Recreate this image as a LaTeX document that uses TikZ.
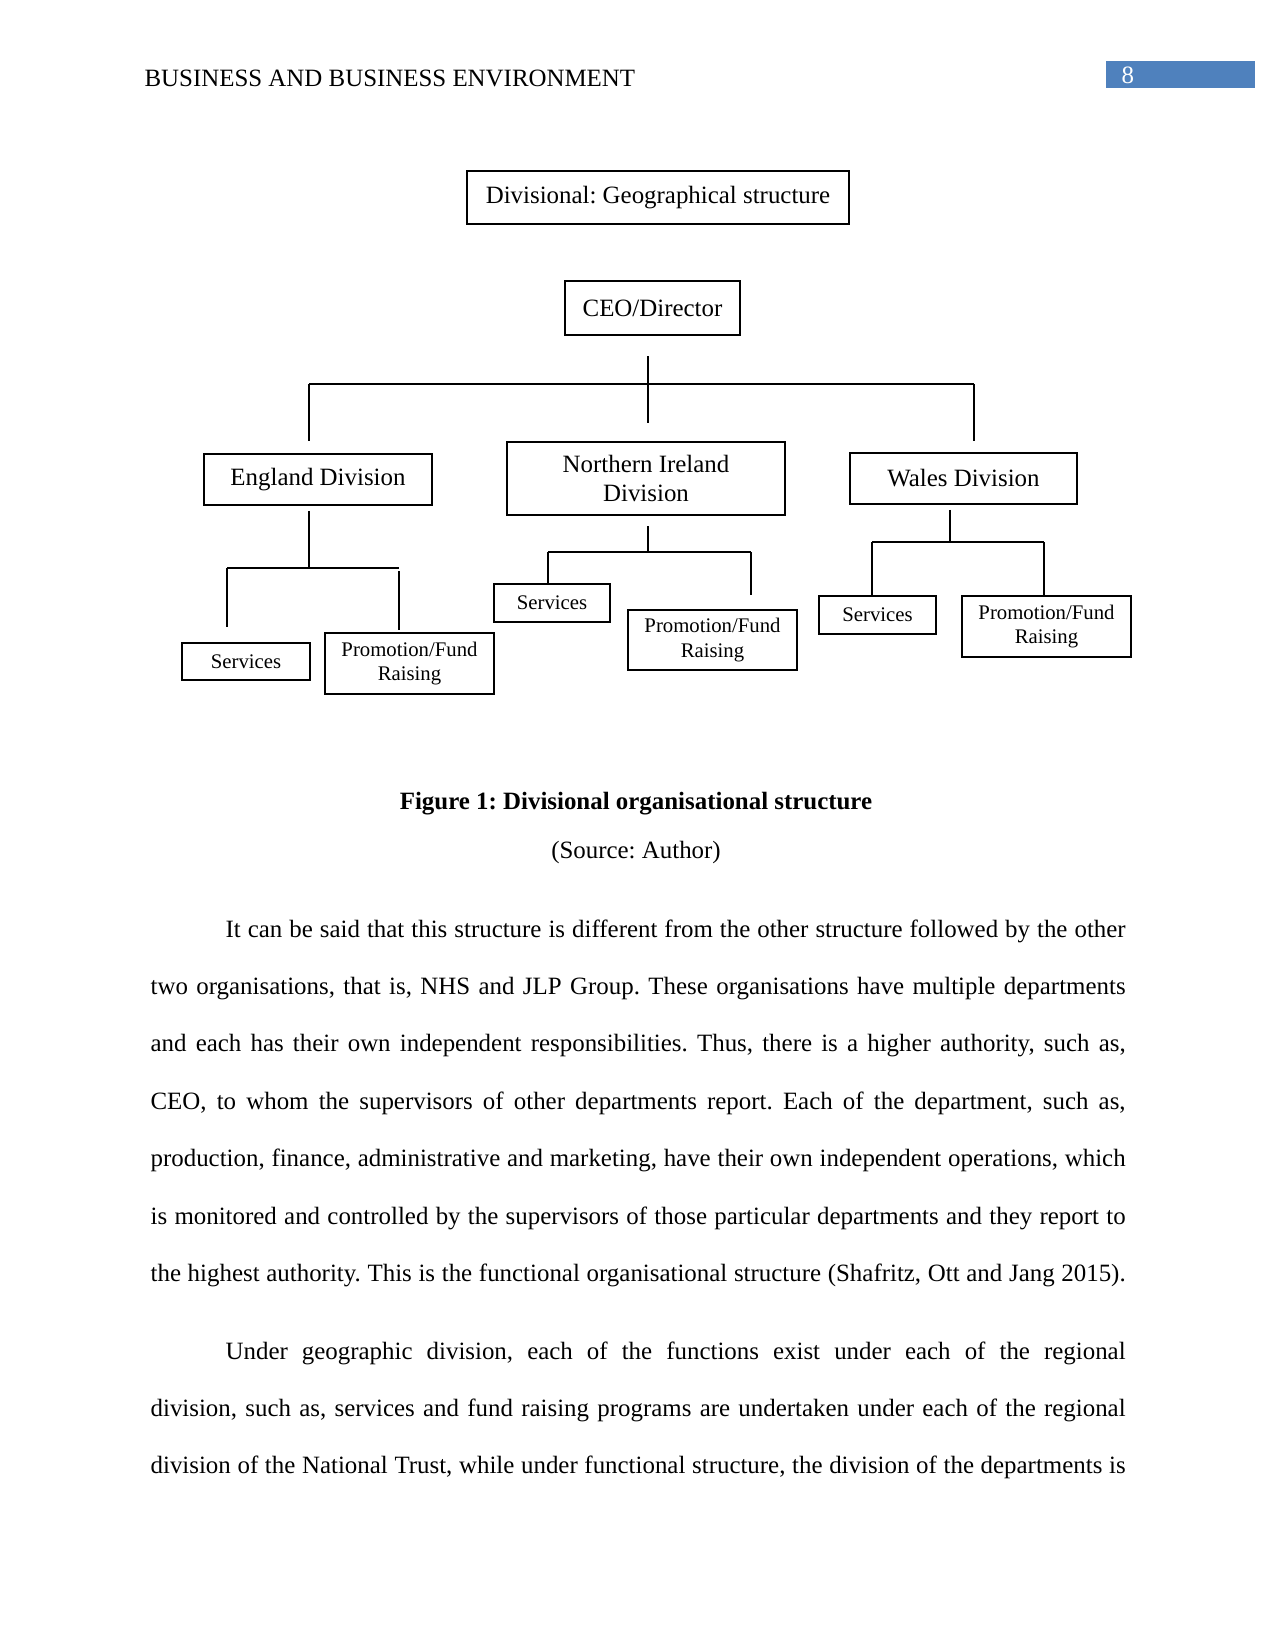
\documentclass[tikz,border=0pt]{standalone}
\usepackage{fontspec}
\setmainfont{Liberation Serif}
\usepackage{xcolor}
\usepackage{tikz}
\usetikzlibrary{positioning}

\definecolor{hdrblue}{RGB}{79,129,189}
\newcommand\pxu{0.4818pt}
\newcommand\wordgap{\spaceskip=0.25em plus 0.3em minus 0.08em\relax}
\frenchspacing

\begin{document}
\begin{tikzpicture}[x=0.4818pt, y=-0.4818pt, line width=0.6pt,
    boxsize/.style 2 args={minimum width=#1*\pxu, minimum height=#2*\pxu},
    orgbox/.style={rectangle, draw, inner sep=0pt, align=center, font=\fontsize{12}{13.7}\selectfont},
    subbox/.style={rectangle, draw, inner sep=0pt, align=center, font=\fontsize{10}{11.6}\selectfont},
    bodytext/.style={inner sep=0pt, anchor=base west, text width=6.5in, font=\fontsize{12}{27.66}\selectfont}]
    \useasboundingbox (0,0) rectangle (1275,1650);

    % page header
    \node[anchor=base west, inner sep=0pt, font=\fontsize{12}{14}\selectfont] (header) at (144,87) {BUSINESS AND BUSINESS ENVIRONMENT};
    \node[fill=hdrblue, inner sep=0pt, boxsize={149}{27}] (pagebox) at (1180.5,74.5) {};
    \node[anchor=base west, inner sep=0pt, text=white, font=\fontsize{12}{14}\selectfont] (pagenum) at (1121,84) {8};

    % chart boxes
    \node[orgbox, boxsize={382}{53}] (title) at (658,197.5) {Divisional: Geographical structure};
    \node[orgbox, boxsize={175}{54}] (ceo) at (652.5,308) {CEO/Director};
    \node[orgbox, boxsize={228}{51}] (eng) at (318,479.5) {England Division};
    \node[orgbox, boxsize={278}{73}] (ni) at (646,478.5) {Northern Ireland\\Division};
    \node[orgbox, boxsize={227}{51}] (wal) at (963.5,478.5) {Wales Division};

    \node[subbox, boxsize={128}{37}] (eng-srv) at (246,661.5) {Services};
    \node[subbox, boxsize={169}{61}] (eng-prm) at (409.5,663.5) {Promotion/Fund\\Raising};
    \node[subbox, boxsize={116}{38}] (ni-srv) at (552,603) {Services};
    \node[subbox, boxsize={169}{60}] (ni-prm) at (712.5,640) {Promotion/Fund\\Raising};
    \node[subbox, boxsize={117}{38}] (wal-srv) at (877.5,615) {Services};
    \node[subbox, boxsize={169}{61}] (wal-prm) at (1046.5,626.5) {Promotion/Fund\\Raising};

    % junctions
    \coordinate (hub) at (648,384);
    \coordinate (bar-l) at (309,384);
    \coordinate (bar-r) at (974,384);
    \coordinate (eng-l) at (227,568);
    \coordinate (eng-r) at (399,568);
    \coordinate (ni-l) at (548,552);
    \coordinate (ni-r) at (751,552);
    \coordinate (wal-j) at (950,542);
    \coordinate (wal-l) at (872,542);
    \coordinate (wal-r) at (1044,542);

    % CEO to divisions
    \draw[shorten <=10pt, shorten >=9pt] (ceo.south -| hub) -- (hub |- ni.north);
    \draw (bar-l) -- (bar-r);
    \draw[shorten >=6pt] (bar-l) -- (bar-l |- eng.north);
    \draw[shorten >=5.5pt] (bar-r) -- (bar-r |- wal.north);

    % England
    \draw[shorten <=2.5pt] (eng.south -| bar-l) -- (bar-l |- eng-l);
    \draw (eng-l) -- (eng-r);
    \draw[shorten >=7.5pt] (eng-l) -- (eng-l |- eng-srv.north);
    \draw[shorten <=1.5pt, shorten >=1pt] (eng-r) -- (eng-r |- eng-prm.north);

    % Northern Ireland
    \draw[shorten <=5pt] (ni.south -| hub) -- (hub |- ni-l);
    \draw (ni-l) -- (ni-r);
    \draw (ni-l) -- (ni-l |- ni-srv.north);
    \draw[shorten >=7pt] (ni-r) -- (ni-r |- ni-prm.north);

    % Wales
    \draw[shorten <=2.5pt] (wal.south -| wal-j) -- (wal-j);
    \draw (wal-l) -- (wal-r);
    \draw (wal-l) -- (wal-l |- wal-srv.north);
    \draw (wal-r) -- (wal-r |- wal-prm.north);

    % caption
    \node[anchor=base, inner sep=0pt, font=\fontsize{12}{14}\selectfont\bfseries] (caption) at (636,809) {Figure 1: Divisional organisational structure};
    \node[anchor=base, inner sep=0pt, font=\fontsize{12}{14}\selectfont] (source) at (636,858) {(Source: Author)};

    % body text
    \node[bodytext] (para1) at (150,937) {\wordgap
        \hspace*{0.5in}\makebox[\dimexpr\linewidth-0.5in\relax][s]{It can be said that this structure is different from the other structure followed by the other}\\
        \makebox[\linewidth][s]{two organisations, that is, NHS and JLP Group. These organisations have multiple departments}\\
        \makebox[\linewidth][s]{and each has their own independent responsibilities. Thus, there is a higher authority, such as,}\\
        \makebox[\linewidth][s]{CEO, to whom the supervisors of other departments report. Each of the department, such as,}\\
        \makebox[\linewidth][s]{production, finance, administrative and marketing, have their own independent operations, which}\\
        \makebox[\linewidth][s]{is monitored and controlled by the supervisors of those particular departments and they report to}\\
        \makebox[\linewidth][s]{the highest authority. This is the functional organisational structure (Shafritz, Ott and Jang 2015).}};
    \node[bodytext] (para2) at (150,1359) {\wordgap
        \hspace*{0.5in}\makebox[\dimexpr\linewidth-0.5in\relax][s]{Under geographic division, each of the functions exist under each of the regional}\\
        \makebox[\linewidth][s]{division, such as, services and fund raising programs are undertaken under each of the regional}\\
        \makebox[\linewidth][s]{division of the National Trust, while under functional structure, the division of the departments is}};
\end{tikzpicture}
\end{document}
